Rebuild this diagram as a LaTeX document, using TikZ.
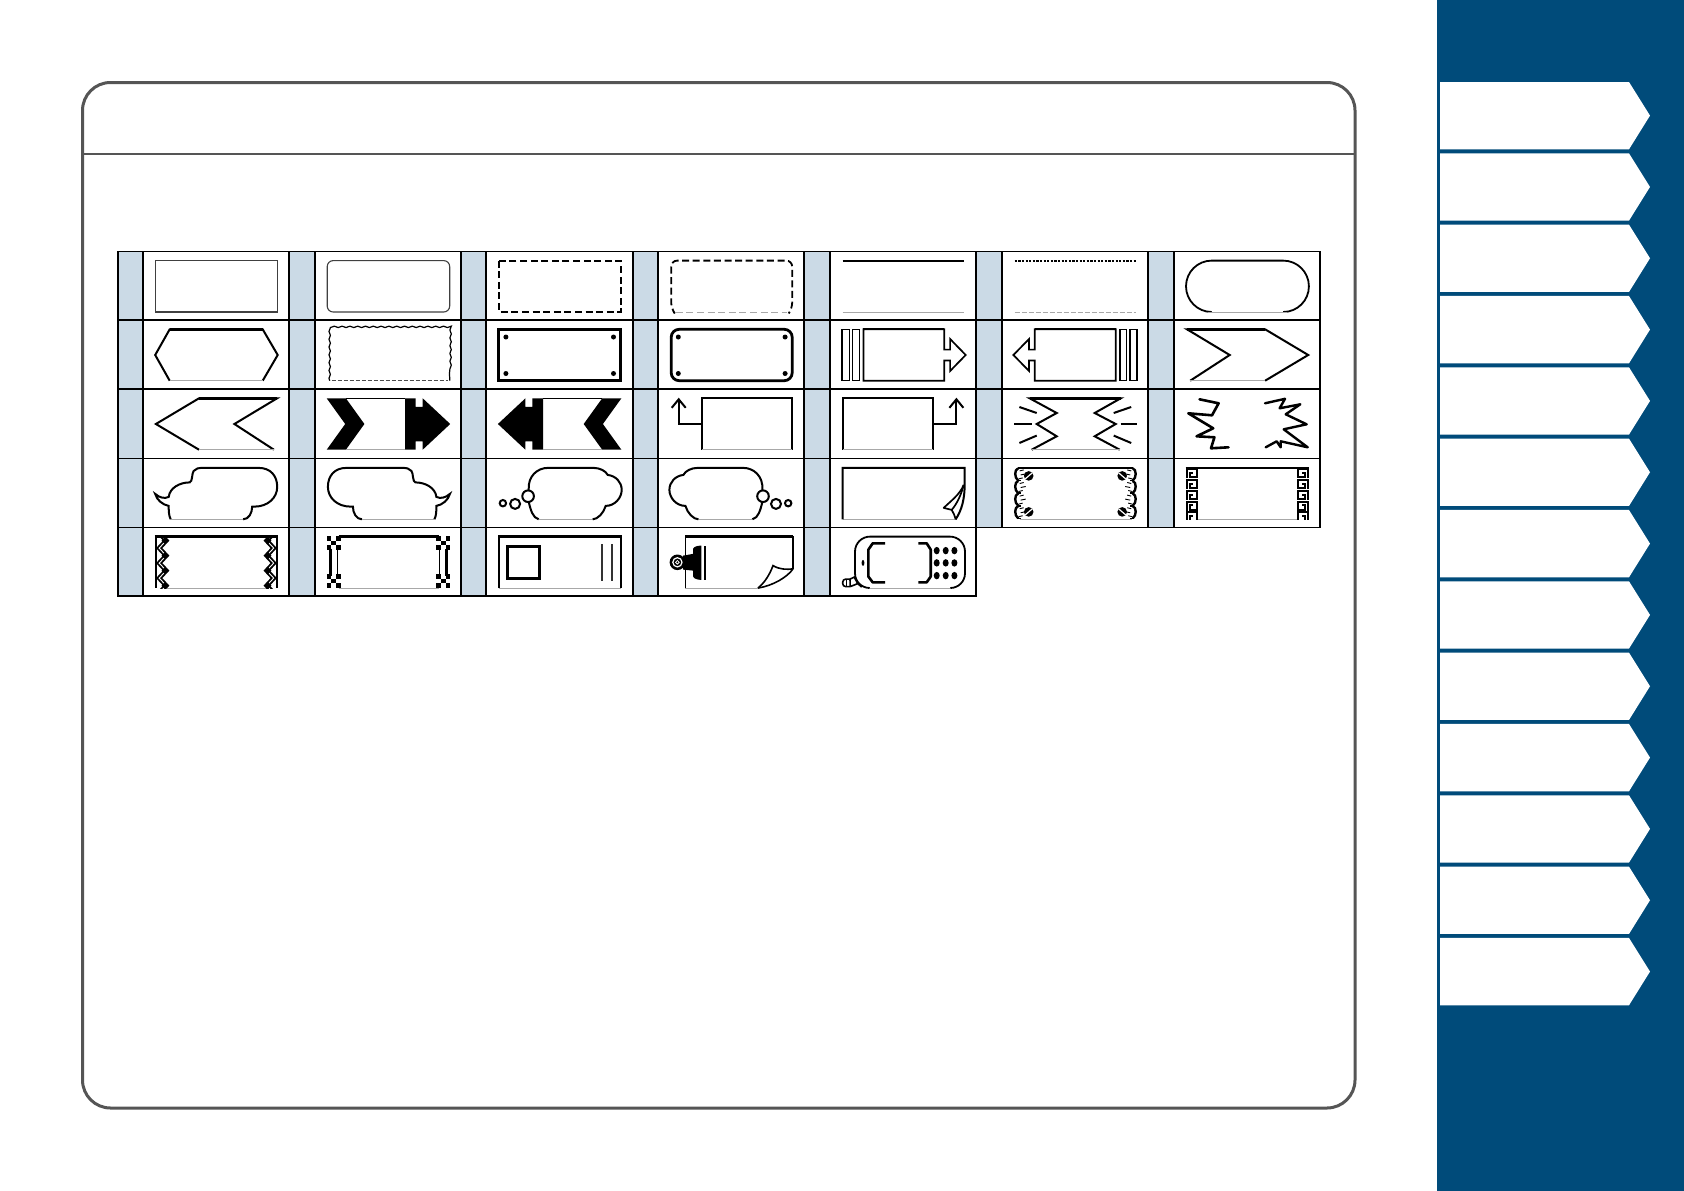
\documentclass[tikz,border=0pt]{standalone}
\usetikzlibrary{decorations.pathmorphing}
\definecolor{navy}{HTML}{004B7A}
\definecolor{cellblue}{HTML}{CBDAE6}
\definecolor{panelgray}{HTML}{555555}
\definecolor{botgray}{HTML}{A8A8A8}
\tikzset{
  panel/.style={draw=panelgray,line width=3pt,rounded corners=28pt},
  rule/.style={draw=panelgray,line width=2pt},
  thinbox/.style={draw=black!75,line width=1.1pt},
  ink/.style={draw=black,line width=2pt,line join=miter},
  heavy/.style={draw=black,line width=2.6pt},
  bottom/.style={draw=botgray,line width=1pt},
  dashline/.style={draw=black,line width=1.8pt,dash pattern=on 7pt off 3.6pt},
  dotline/.style={draw=black,line width=2.2pt,dash pattern=on 2.2pt off 1.4pt},
  botdash/.style={draw=botgray,line width=1pt,dash pattern=on 5pt off 2pt},
  gridline/.style={draw=black,line width=1.1pt}
}
% every shape is drawn in a local box (0,0)-(123.5,51.4)
\newcommand{\dgmRect}{\draw[thinbox] (0.5,51.4)--(0.5,0)--(123,0)--(123,51.4)--cycle;}
\newcommand{\dgmRound}{\draw[thinbox,rounded corners=6pt] (0.5,0) rectangle (123,51.4);}
\newcommand{\dgmDash}{\draw[dashline] (1.5,0) rectangle (123,51.4);}
\newcommand{\dgmRoundDash}{%
  \draw[bottom,dash pattern=on 7pt off 3.6pt] (6,51.4)--(117,51.4);
  \draw[dashline,rounded corners=6pt] (4,51.4)--(1.5,48)--(1.5,0)--(122.5,0)--(122.5,48)--(120,51.4);}
\newcommand{\dgmLine}{\draw[heavy,line width=2.1pt] (1,0)--(122.5,0);\draw[bottom] (1,51.4)--(122.5,51.4);}
\newcommand{\dgmDots}{\draw[dotline] (1,0)--(122.5,0);\draw[botdash] (1,51.4)--(122.5,51.4);}
\newcommand{\dgmStadium}{%
  \draw[ink,line width=1.8pt] (26,51.4) arc[start angle=90,end angle=270,radius=25.7] -- (97.5,0) arc[start angle=-90,end angle=90,radius=25.7];
  \draw[draw=white,line width=2.4pt] (26,52)--(97.5,52);
  \draw[bottom] (22,51.4)--(101,51.4);}
\newcommand{\dgmHex}{%
  \draw[ink] (15,51.4)--(0.5,25.7)--(15,0)--(108,0)--(123,25.7)--(108,51.4);
  \draw[heavy] (15,0)--(108,0);
  \draw[bottom] (15,51.4)--(108,51.4);}
\newcommand{\dgmWavy}{%
  \draw[draw=black,line width=1.2pt,decorate,decoration={snake,amplitude=0.7pt,segment length=7.8pt}]
     (3,51.4)--(3,0)--(123,0)--(123,51.4);
  \draw[draw=black!70,line width=1.1pt,dash pattern=on 4pt off 2pt] (5,51.4)--(121,51.4);}
\newcommand{\dgmScrewBox}{%
  \draw[heavy] (1,0) rectangle (123,51.4);
  \foreach \px in {8.2,115.8}{\foreach \py in {7.7,44.2}{\fill (\px,\py) circle[radius=2.5];}}}
\newcommand{\dgmScrewRound}{%
  \draw[heavy,line width=2.8pt,rounded corners=8pt] (1.5,0) rectangle (122.5,51.4);
  \foreach \px in {8.6,115.4}{\foreach \py in {7.7,44.2}{\fill (\px,\py) circle[radius=2.5];}}}
\newcommand{\dgmBarArrow}{%
  \draw[ink,line width=1.5pt] (0.5,0) rectangle (7.6,51.4);
  \draw[ink,line width=1.5pt] (10.9,0) rectangle (17.6,51.4);
  \draw[ink,line width=1.7pt] (21.7,51.4)--(21.7,0)--(102.6,0)--(102.6,20.3)--(108.4,20.3)--(108.4,9.7)--(124,25.7)--(108.4,41.7)--(108.4,31.1)--(102.6,31.1)--(102.6,51.4)--cycle;
  \draw[ink,line width=2.2pt] (21.7,0)--(102.6,0);}
\newcommand{\dgmChevron}{%
  \draw[ink] (4.5,51.4)--(44,25.7)--(1.3,0)--(79.4,0)--(122.5,25.7)--(79.4,51.4);
  \draw[heavy] (1.3,0)--(79.4,0);
  \draw[bottom] (4.5,51.4)--(79.4,51.4);}
\newcommand{\dgmBlackArrow}{%
  \fill (0,0)--(19.2,0)--(37.7,25.7)--(19.2,51.4)--(0,51.4)--(18.5,25.7)--cycle;
  \fill (78.4,0)--(89,0)--(89,8.5)--(96,8.5)--(96,0)--(123.5,25.7)--(96,51.4)--(96,43)--(89,43)--(89,51.4)--(78.4,51.4)--cycle;
  \draw[draw=black,line width=1.2pt] (19,0)--(78.4,0);
  \draw[bottom] (19,51.4)--(78.4,51.4);}
\newcommand{\dgmUpArrow}{%
  \draw[ink,line width=1.8pt] (32.5,51.4)--(32.5,0)--(122.5,0)--(122.5,51.4);
  \draw[heavy,line width=2.2pt] (32.5,0)--(122.5,0);
  \draw[bottom] (32.5,51.4)--(122.5,51.4);
  \draw[ink] (32.5,25.7)--(9,25.7)--(9,1);
  \draw[ink] (2,9.5)--(9,1)--(16,9.5);}
\newcommand{\dgmBurst}{%
  \draw[ink] (18,51.4)--(43,38)--(23,25.7)--(43,14.7)--(16,0)--(107,0)--(81,14.7)--(102,25.7)--(81,38)--(106,51.4);
  \draw[heavy] (16,0)--(107,0);
  \draw[bottom] (18,51.4)--(106,51.4);
  \draw[ink] (5.7,8.7)--(23,14.7);
  \draw[ink] (0.4,26)--(18,26);
  \draw[ink] (5.7,44.7)--(23,37.3);
  \draw[ink] (100,14.7)--(117.5,8.7);
  \draw[ink] (107,26)--(123.5,26);
  \draw[ink] (100,37.3)--(117.5,44.7);}
\newcommand{\dgmRough}{%
  \draw[ink,line width=2.6pt,line join=round,line cap=round] (13.8,1)--(32.9,5)--(26.3,17)--(2.6,15)--(27.5,30)--(10.9,38)--(28.7,39)--(25.3,50)--(42.8,49);
  \draw[ink,line width=2.4pt,line join=round,line cap=round] (79.3,5)--(99.3,0.5)--(93.9,10)--(114.6,6)--(100,16)--(120.9,26)--(98,31)--(122,49)--(95,43)--(95,49)--(91,43)--(80,49);}
\newcommand{\dgmCloud}{%
  \draw[bottom] (16,51.4)--(89,51.4);
  \draw[ink] (16,51.4) .. controls (14,48) and (14,42) .. (14,38)
     .. controls (8,37) and (2,32) .. (0.5,26)
     .. controls (5,30) and (10,31) .. (14,29)
     .. controls (15,20) and (25,14.5) .. (35,14.5)
     .. controls (38,14) and (37,5) .. (39,3)
     .. controls (41,0.5) and (44,0) .. (48,0) -- (104,0)
     .. controls (116,0) and (122.5,8) .. (122.5,19)
     .. controls (122.5,30) and (113,38.7) .. (100,38.7) -- (97.5,38.7)
     .. controls (97.5,45) and (94,51.4) .. (88.5,51.4);}
\newcommand{\dgmThought}{%
  \draw[bottom] (41,51.4)--(95,51.4);
  \draw[ink] (41,51.4) .. controls (35,50) and (33,42) .. (31,34) -- (31,22)
     .. controls (30,8) and (40,0) .. (50,0) -- (96,0)
     .. controls (102,0) and (108,3) .. (110,7)
     .. controls (118,8) and (124,14) .. (124,22)
     .. controls (124,30) and (117,38) .. (108,38)
     .. controls (106,45) and (100,51.4) .. (95,51.4);
  \draw[ink,fill=white] (30.4,28.3) circle[radius=5.8];
  \draw[ink] (17.4,36) circle[radius=5];
  \draw[ink] (5.2,35.3) circle[radius=3.2];}
\newcommand{\dgmCurl}{%
  \draw[bottom] (1,51.4)--(114,51.4);
  \draw[ink] (1,51.4)--(1,0)--(123,0)--(123,15) .. controls (123,32) and (120,42) .. (114,51.4);
  \draw[heavy] (1,0)--(123,0);
  \draw[ink,line width=1.7pt,line join=round] (122,17) .. controls (118,27) and (108,34) .. (102,40) -- (110,42)
     .. controls (112,45) and (113,48) .. (114,51.4);
  \draw[ink,line width=1.7pt] (110,42) .. controls (116,35) and (120,25) .. (122,17);}
\newcommand{\dgmSideScallop}{%
  \foreach \i in {0,1,2,3}{
    \draw[ink,line width=2.4pt] (4.5,\i*12.6+0.4) .. controls (0.5,\i*12.6+1.5) and (0.5,\i*12.6+10) .. (4.5,\i*12.6+12.6);
    \draw[draw=black,line width=1.6pt] (3,\i*12.6+12.6)--(7,\i*12.6+12.6);
    \draw[draw=black,line width=0.9pt] (6,\i*12.6+3)--(10,\i*12.6+2);
    \draw[draw=black,line width=0.9pt] (7,\i*12.6+7)--(12,\i*12.6+6);
    \draw[draw=black,line width=0.9pt] (5,\i*12.6+11)--(9,\i*12.6+10);
  }
  \foreach \py in {8,44}{
    \fill (15,\py) circle[radius=4.8];
    \draw[draw=white,line width=1.2pt] (11.5,\py+3)--(18.5,\py-3);}}
\newcommand{\dgmOrnate}{%
  \draw[heavy] (4,0)--(119.5,0);
  \draw[bottom] (6,51.4)--(118,51.4);
  \dgmSideScallop
  \begin{scope}[shift={(123.5,0)},xscale=-1]\dgmSideScallop\end{scope}}
\newcommand{\dgmKeySide}{%
  \begin{scope}
  \clip (-1,-2) rectangle (13,51.9);
  \foreach \i in {0,...,4}{
    \draw[draw=black,line width=2pt,line join=miter] (0.9,\i*10.9+10.4)--(0.9,\i*10.9+0.9)--(11,\i*10.9+0.9)--(11,\i*10.9+9.2)--(4.6,\i*10.9+9.2)--(4.6,\i*10.9+4.8)--(7.6,\i*10.9+4.8);}
  \end{scope}}
\newcommand{\dgmGreek}{%
  \draw[heavy,line width=2.6pt] (0,0)--(123.5,0);
  \draw[bottom] (12,51.4)--(112,51.4);
  \dgmKeySide
  \begin{scope}[shift={(123.5,0)},xscale=-1]\dgmKeySide\end{scope}}
\newcommand{\dgmZigSide}{%
  \draw[draw=black,line width=2.4pt] (1,0)--(1,51.4);
  \begin{scope}
  \clip (0,-1) rectangle (16,51.9);
  \foreach \dx in {0,4}{
    \draw[draw=black,line width=1.7pt,line join=miter] (2.5+\dx,-3.5)--(9.5+\dx,4)--(2.5+\dx,11.5)--(9.5+\dx,19)--(2.5+\dx,26.5)--(9.5+\dx,34)--(2.5+\dx,41.5)--(9.5+\dx,49)--(2.5+\dx,56.5);}
  \foreach \py in {4,19,34,49}{
    \fill (10,\py-3.2)--(13.2,\py)--(10,\py+3.2)--(6.8,\py)--cycle;}
  \end{scope}}
\newcommand{\dgmZig}{%
  \draw[heavy] (0,0)--(123.5,0);
  \draw[bottom] (12,51.4)--(112,51.4);
  \dgmZigSide
  \begin{scope}[shift={(123.5,0)},xscale=-1]\dgmZigSide\end{scope}}
\newcommand{\dgmCheckSide}{%
  \foreach \py in {-0.6,37.3}{
    \foreach \qx/\qy in {0/0,9.4/0,4.7/4.7,0/9.4,9.4/9.4}{
      \fill (\qx,\py+\qy) rectangle +(4.7,4.7);}}
  \draw[draw=black,line width=2.8pt] (3.6,12)--(3.6,39);
  \draw[draw=black,line width=1.4pt] (10.5,12)--(10.5,39);}
\newcommand{\dgmCheck}{%
  \draw[heavy,line width=2.4pt] (12,0)--(112,0);
  \draw[bottom] (12,51.4)--(112,51.4);
  \dgmCheckSide
  \begin{scope}[shift={(123.5,0)},xscale=-1]\dgmCheckSide\end{scope}}
\newcommand{\dgmSquare}{%
  \draw[ink,line width=2.3pt] (1,51.4)--(1,0)--(123,0)--(123,51.4);
  \draw[heavy] (1,0)--(123,0);
  \draw[bottom] (1,51.4)--(123,51.4);
  \draw[heavy,line width=2.8pt] (10,10) rectangle (41.4,41.7);
  \draw[draw=black!80,line width=1.6pt] (104.3,7.7)--(104.3,44.4);
  \draw[draw=black!80,line width=1.6pt] (114,7.7)--(114,44.4);}
\newcommand{\dgmClip}{%
  \draw[ink,line width=1.5pt] (15.7,51.4)--(15.7,0)--(123.3,0)--(123.3,32.3);
  \draw[heavy] (15.7,0)--(123.3,0);
  \draw[bottom] (15.7,51.4)--(88.3,51.4);
  \draw[ink,line width=1.6pt] (123.3,32.3) .. controls (118,40) and (104,49) .. (88.3,51.4);
  \draw[ink,line width=1.6pt] (88.3,51.4) .. controls (95,46) and (100,38) .. (103.3,29) .. controls (110,33) and (117,33) .. (123.3,32.3);
  \fill (13.3,19)--(23.3,17.3)--(23.5,12) .. controls (24,10) and (28,9) .. (31.7,9)--(31.7,43.3) .. controls (28,43.3) and (24,42) .. (23.5,40)--(23.3,34)--(13.3,33)--cycle;
  \fill (34.2,9) rectangle (36,43.3);
  \fill (7.7,25.7) circle[radius=7.8];
  \draw[draw=white,line width=1.2pt] (7.7,25.7) circle[radius=4.6];
  \draw[draw=white,line width=0.8pt] (7.7,25.7) circle[radius=1.8];}
\newcommand{\dgmPhone}{%
  \draw[bottom] (28,51.4)--(108,51.4);
  \draw[ink,line width=1.8pt] (28,51.4) arc[start angle=90,end angle=180,radius=14.7] -- (13.3,15)
     arc[start angle=180,end angle=270,radius=15] -- (108.3,0)
     arc[start angle=-90,end angle=0,radius=15] -- (123.3,36.7)
     arc[start angle=0,end angle=90,radius=14.7];
  \draw[heavy,line width=2.6pt,line join=round] (43.3,6.7)--(31,6.7)--(26.7,13)--(26.7,40)--(31,45.7)--(43.3,45.7);
  \draw[heavy,line width=2.6pt,line join=round] (76.7,6.7)--(85,6.7)--(89,13)--(89,40)--(85,45.7)--(76.7,45.7);
  \foreach \px in {95,104,112.7}{\foreach \py in {14,26.3,39}{
    \fill (\px,\py) ellipse[x radius=3,y radius=3.7];}}
  \fill (21.3,26.3) ellipse[x radius=1.4,y radius=3];
  \draw[ink,line width=1.6pt,rounded corners=3pt] (8.3,42.5)--(1,42.5)--(1,50)--(8.5,50);
  \draw[ink,line width=1.6pt] (8.3,42.5)--(8.5,50);
  \draw[ink,line width=1.6pt] (8.3,42.5)--(12.5,40.5)--(16,47);
  \draw[ink,line width=1.6pt] (8.5,50)--(16,47)--(20,50.5);
  \draw[ink,line width=1.1pt] (4.5,42.5)--(4.5,50);}
\newcommand{\atcell}[3]{\begin{scope}[shift={(#1+11.7,#2+9.3)}]#3\end{scope}}
\newcommand{\mirrored}[3]{\begin{scope}[shift={(#1+11.7+123.7,#2+9.3)},xscale=-1]#3\end{scope}}
\begin{document}
\begin{tikzpicture}[x=1pt,y=-1pt]
\useasboundingbox (0,0) rectangle (1684,1191);
\fill[white] (0,0) rectangle (1684,1191);
% side bar with tabs
\fill[navy] (1437,0) rectangle (1684,1191);
\foreach \i in {0,...,12}{
  \fill[white] (1440,82+\i*71.33)--(1629,82+\i*71.33)--(1650,115.6+\i*71.33)--(1629,149.3+\i*71.33)--(1440,149.3+\i*71.33)--cycle;
}
% panel
\draw[panel] (82.5,82.5) rectangle (1355,1108);
\draw[rule] (82.5,154) -- (1355,154);
% table
\foreach \xa/\xb/\xc in {118/143/289,289/315/461,461/486/633,633/658/804,804/830/976,976/1002/1148,1148/1174/1320}{
  \foreach \ya/\yb in {251.3/320,320/389,389/458.6,458.6/527.3}{
    \fill[cellblue] (\xa,\ya) rectangle (\xb,\yb);
    \draw[gridline] (\xa,\ya) rectangle (\xb,\yb);
    \draw[gridline] (\xb,\ya) rectangle (\xc,\yb);
  }
}
\foreach \xa/\xb/\xc in {118/143/289,289/315/461,461/486/633,633/658/804,804/830/976}{
  \fill[cellblue] (\xa,527.3) rectangle (\xb,596);
  \draw[gridline] (\xa,527.3) rectangle (\xb,596);
  \draw[gridline] (\xb,527.3) rectangle (\xc,596);
}
% row 1
\atcell{143}{251.3}{\dgmRect}
\atcell{315}{251.3}{\dgmRound}
\atcell{486}{251.3}{\dgmDash}
\atcell{658}{251.3}{\dgmRoundDash}
\atcell{830}{251.3}{\dgmLine}
\atcell{1002}{251.3}{\dgmDots}
\atcell{1174}{251.3}{\dgmStadium}
% row 2
\atcell{143}{320}{\dgmHex}
\atcell{315}{320}{\dgmWavy}
\atcell{486}{320}{\dgmScrewBox}
\atcell{658}{320}{\dgmScrewRound}
\atcell{830}{320}{\dgmBarArrow}
\mirrored{1002}{320}{\dgmBarArrow}
\atcell{1174}{320}{\dgmChevron}
% row 3
\mirrored{143}{389}{\dgmChevron}
\atcell{315}{389}{\dgmBlackArrow}
\mirrored{486}{389}{\dgmBlackArrow}
\atcell{658}{389}{\dgmUpArrow}
\mirrored{830}{389}{\dgmUpArrow}
\atcell{1002}{389}{\dgmBurst}
\atcell{1174}{389}{\dgmRough}
% row 4
\atcell{143}{458.6}{\dgmCloud}
\mirrored{315}{458.6}{\dgmCloud}
\atcell{486}{458.6}{\dgmThought}
\mirrored{658}{458.6}{\dgmThought}
\atcell{830}{458.6}{\dgmCurl}
\atcell{1002}{458.6}{\dgmOrnate}
\atcell{1174}{458.6}{\dgmGreek}
% row 5
\atcell{143}{527.3}{\dgmZig}
\atcell{315}{527.3}{\dgmCheck}
\atcell{486}{527.3}{\dgmSquare}
\atcell{658}{527.3}{\dgmClip}
\atcell{830}{527.3}{\dgmPhone}
\end{tikzpicture}
\end{document}
